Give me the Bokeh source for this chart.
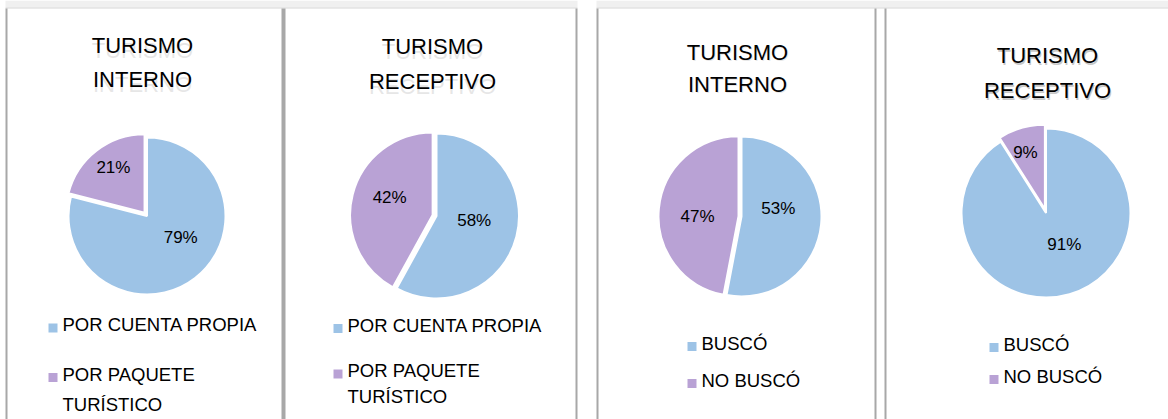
import math
import textwrap
from bokeh.plotting import figure
from bokeh.models import Range1d, ColumnDataSource
from bokeh.core.properties import value
from bokeh.embed import file_html
from bokeh.resources import INLINE

# ---------------- data ----------------
titles = [["TURISMO", "INTERNO"], ["TURISMO", "RECEPTIVO"],
          ["TURISMO", "INTERNO"], ["TURISMO", "RECEPTIVO"]]
categories_modalidad = ["POR CUENTA PROPIA", "POR PAQUETE TURÍSTICO"]
categories_busqueda = ["BUSCÓ", "NO BUSCÓ"]
interno_modalidad = [79, 21]
receptivo_modalidad = [58, 42]
interno_busqueda = [53, 47]
receptivo_busqueda = [91, 9]
slice_colors = ["#9dc3e6", "#b9a2d5"]

series = [interno_modalidad, receptivo_modalidad, interno_busqueda, receptivo_busqueda]
cats = [categories_modalidad, categories_modalidad, categories_busqueda, categories_busqueda]

# ---------------- layout (reference pixel coords, y down) ----------------
W, H = 1168, 419
FONT = value("Liberation Sans")

panels = [
    dict(cx=146.5, cy=215.5, r=78.5, tx=142, tm=[44.5, 78.5], shadow=("#c8c8c8", 0, 5, 0.45),
         lx=48, lm=[324, 373.5], gap=30, explode=[0, 4], lab_frac=[0.51, 0.75], lab_shift=[19.5, -3]),
    dict(cx=436, cy=215.5, r=82.5, tx=432, tm=[46, 81], shadow=("#c8c8c8", 0, 5, 0.45),
         lx=333, lm=[324.5, 370], gap=26, explode=[0, 4], lab_frac=[0.46, 0.61], lab_shift=[7.6, -7]),
    dict(cx=741, cy=216, r=80, tx=737, tm=[51.5, 83.5], shadow=("#d0d0d0", 1, 1, 0.5),
         lx=687, lm=[342.5, 379.5], gap=27, explode=[0, 3], lab_frac=[0.47, 0.55], lab_shift=[17.6, 5.4]),
    dict(cx=1045.5, cy=212.5, r=84.5, tx=1047, tm=[55, 90], shadow=("#909090", 1, 1.5, 0.5),
         lx=989, lm=[343.5, 375.5], gap=27, explode=[0, 4], lab_frac=[0.43, 0.76], lab_shift=[14, 2.5]),
]


def Y(v):
    return H - v


p = figure(width=W, height=H, x_range=Range1d(0, W), y_range=Range1d(0, H),
           output_backend="svg", toolbar_location=None,
           x_axis_location=None, y_axis_location=None,
           min_border=0, min_border_left=0, min_border_right=0,
           min_border_top=0, min_border_bottom=0)
p.grid.visible = False
p.outline_line_color = None
p.background_fill_color = "white"
p.border_fill_color = "white"

# top strip (document chrome)
p.quad(left=[5, 596], right=[577, W], top=[Y(0), Y(0)], bottom=[Y(7), Y(7)],
       fill_color="#f0f0f0", line_color=None)
p.quad(left=[5, 596], right=[577, W], top=[Y(7), Y(7)], bottom=[Y(8), Y(8)],
       fill_color="#d6d6d6", line_color=None)

# vertical separators
sep_l = [5, 281, 575, 596, 874, 884]
sep_r = [7, 285, 577, 598, 876, 886]
p.quad(left=sep_l, right=sep_r, top=[Y(8)] * 6, bottom=[Y(H)] * 6,
       fill_color="#a8a8a8", line_color=None)

for pan, vals, cat, ttl in zip(panels, series, cats, titles):
    total = float(sum(vals))
    starts, ends, xs, ys, lxs, lys, labels = [], [], [], [], [], [], []
    cum = 0.0
    for i, v in enumerate(vals):
        a_before = 90 - cum / total * 360
        cum += v
        a_after = 90 - cum / total * 360
        mid = math.radians((a_before + a_after) / 2)
        e = pan["explode"][i]
        x0 = pan["cx"] + e * math.cos(mid)
        y0 = Y(pan["cy"]) + e * math.sin(mid)
        starts.append(math.radians(a_after))
        ends.append(math.radians(a_before))
        xs.append(x0)
        ys.append(y0)
        la = mid + math.radians(pan["lab_shift"][i])
        lr = pan["lab_frac"][i] * pan["r"]
        lxs.append(pan["cx"] + lr * math.cos(la))
        lys.append(Y(pan["cy"]) + lr * math.sin(la))
        labels.append(f"{round(v / total * 100)}%")
    src = ColumnDataSource(dict(x=xs, y=ys, s=starts, e=ends, c=slice_colors[:len(vals)]))
    p.wedge(x="x", y="y", radius=pan["r"], start_angle="s", end_angle="e",
            direction="anticlock", fill_color="c", line_color="white", line_width=2,
            source=src)
    p.text(x=lxs, y=lys, text=labels, text_font=FONT, text_font_size="17px",
           text_color="black", text_align="center", text_baseline="middle")

    # title with shadow / reflection
    scol, sdx, sdy, salpha = pan["shadow"]
    for line, mid_y in zip(ttl, pan["tm"]):
        p.text(x=[pan["tx"] + sdx], y=[Y(mid_y + sdy)], text=[line], text_font=FONT,
               text_font_size="22px", text_color=scol, text_alpha=salpha,
               text_align="center", text_baseline="middle")
        p.text(x=[pan["tx"]], y=[Y(mid_y)], text=[line], text_font=FONT,
               text_font_size="22px", text_color="black",
               text_align="center", text_baseline="middle")

    # legend
    for i, (label, mid_y) in enumerate(zip(cat, pan["lm"])):
        p.quad(left=[pan["lx"]], right=[pan["lx"] + 9], top=[Y(mid_y - 1)], bottom=[Y(mid_y + 8)],
               fill_color=slice_colors[i], line_color=None)
        for k, ln in enumerate(textwrap.wrap(label, 17)):
            p.text(x=[pan["lx"] + 14], y=[Y(mid_y + k * pan["gap"])], text=[ln], text_font=FONT,
                   text_font_size="18.5px", text_color="black",
                   text_align="left", text_baseline="middle")

open("out.html", "w").write(file_html(p, INLINE))
